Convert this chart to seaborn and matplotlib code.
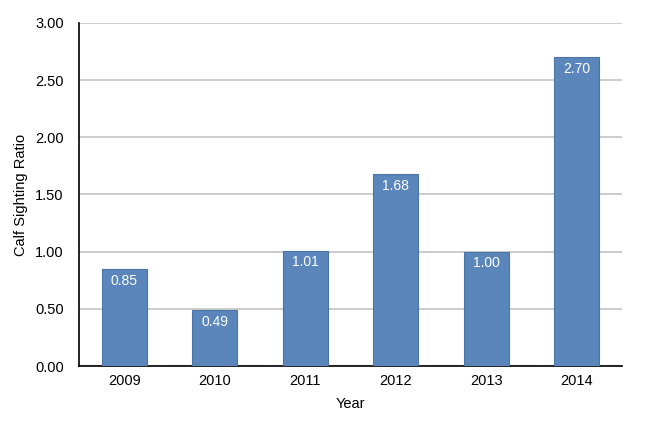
import matplotlib
matplotlib.use("Agg")
import matplotlib.pyplot as plt
import seaborn as sns
import pandas as pd

years = ["2009", "2010", "2011", "2012", "2013", "2014"]
ratios = [0.85, 0.49, 1.01, 1.68, 1.00, 2.70]
labels = ["0.85", "0.49", "1.01", "1.68", "1.00", "2.70"]

df = pd.DataFrame({"Year": years, "Ratio": ratios})

sns.set_theme(style="white")
plt.rcParams['font.family'] = ['Liberation Sans', 'DejaVu Sans']

fig = plt.figure(figsize=(6.5, 4.22), dpi=100)
ax = fig.add_axes([0.1215, 0.1327, 0.8355, 0.8128])

sns.barplot(data=df, x="Year", y="Ratio", color="#5b86bb", saturation=1,
            width=0.5, edgecolor="#4a74a6", linewidth=0.8, ax=ax, zorder=3)

ax.set_ylim(0, 3.0)
ax.set_yticks([0, 0.5, 1.0, 1.5, 2.0, 2.5, 3.0])
ax.set_yticklabels([f"{v:.2f}" for v in [0, 0.5, 1.0, 1.5, 2.0, 2.5, 3.0]])
ax.yaxis.grid(True, color="#c4c4c4", linewidth=1.2, zorder=0)
ax.set_axisbelow(True)
ax.set_xlim(-0.5, 5.5)

for p, lab in zip(ax.patches, labels):
    x = p.get_x() + p.get_width() / 2
    h = p.get_height()
    ax.annotate(lab, (x, h), xytext=(0, -8.5), textcoords="offset points",
                ha="center", va="center", color="white", fontsize=10, zorder=5)

for s in ["top", "right"]:
    ax.spines[s].set_visible(False)
ax.spines["left"].set_color("black")
ax.spines["bottom"].set_color("black")
ax.spines["left"].set_linewidth(1.2)
ax.spines["bottom"].set_linewidth(1.2)
ax.tick_params(axis="y", length=0, labelsize=10.5, colors="black", pad=11)
ax.tick_params(axis="x", length=0, labelsize=10.5, colors="black", pad=6)

ax.set_xlabel("Year", fontsize=10.5, color="black", labelpad=6)
ax.set_ylabel("Calf Sighting Ratio", fontsize=10.5, color="black", labelpad=5)

fig.savefig("out.png", dpi=100)
